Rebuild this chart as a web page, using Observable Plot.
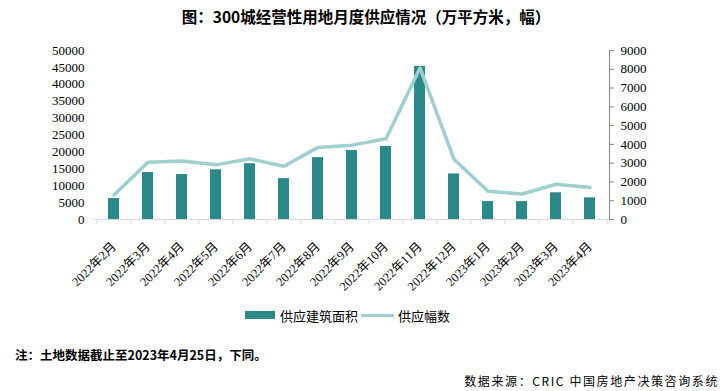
<!DOCTYPE html>
<html><head><meta charset="utf-8">
<script src="https://cdn.jsdelivr.net/npm/d3@7"></script>
<script src="https://cdn.jsdelivr.net/npm/@observablehq/plot@0.6"></script>
<style>
body{margin:0;background:#fff;}
#wrap{position:relative;width:724px;height:391px;overflow:hidden;font-family:"Noto Sans CJK SC",sans-serif;color:#000;}
#chart{position:absolute;left:0;top:0;}
.abs{position:absolute;white-space:nowrap;line-height:1;}
</style></head>
<body>
<div id="wrap">
  <div id="chart"></div>
  <div class="abs" id="title" style="left:0;width:732px;text-align:center;top:9px;font-size:15.5px;font-weight:bold;">图：300城经营性用地月度供应情况（万平方米，幅）</div>
  <div class="abs" id="legend" style="left:245px;top:307px;font-size:13px;">
    <span style="display:inline-block;width:30px;height:8px;background:#2b8a89;vertical-align:middle;"></span><span style="vertical-align:middle;margin-left:5px;">供应建筑面积</span><span style="display:inline-block;width:33px;height:3.5px;background:#9fcfd1;vertical-align:middle;margin-left:3px;"></span><span style="vertical-align:middle;margin-left:4px;">供应幅数</span>
  </div>
  <div class="abs" id="note" style="left:15px;top:349px;font-size:12.5px;font-weight:bold;">注：土地数据截止至2023年4月25日，下同。</div>
  <div class="abs" id="src" style="right:5px;top:375px;font-size:12px;letter-spacing:1.6px;">数据来源：CRIC 中国房地产决策咨询系统</div>
</div>
<script>
const months = ["2022年2月","2022年3月","2022年4月","2022年5月","2022年6月","2022年7月","2022年8月","2022年9月","2022年10月","2022年11月","2022年12月","2023年1月","2023年2月","2023年3月","2023年4月"];
const area = [6200,13900,13300,14700,16500,12100,18300,20400,21600,45300,13500,5300,5300,7900,6400];
const count = [1300,3050,3120,2910,3230,2840,3840,3960,4300,8070,3210,1500,1360,1880,1700];
const leftTicks = [0,5000,10000,15000,20000,25000,30000,35000,40000,45000,50000];
const rightTicks = [0,1000,2000,3000,4000,5000,6000,7000,8000,9000];

const W = 724, H = 391, mL = 94, mR = 115, mT = 50, mB = 172;
const ratio = 50000 / 9000;
const step = (W - mL - mR) / months.length;
const fmt = d3.format("d");
const serif = "'Liberation Serif','Noto Sans CJK SC',serif";

const chart = Plot.plot({
  width: W, height: H,
  marginLeft: mL, marginRight: mR, marginTop: mT, marginBottom: mB,
  style: {fontFamily: serif, fontSize: "13px", color: "#000", background: "transparent"},
  x: {domain: months, paddingInner: 0.68, paddingOuter: 0.34, label: null},
  y: {domain: [0, 50000], label: null},
  marks: [
    Plot.ruleY([0], {stroke: "#d9d9d9"}),
    Plot.axisX({tickSize: 5, tickFormat: () => "", stroke: "#d9d9d9", strokeOpacity: 1, dx: -step / 2, label: null}),
    Plot.axisX({ticks: [months[months.length - 1]], tickSize: 5, tickFormat: () => "", stroke: "#d9d9d9", strokeOpacity: 1, dx: step / 2, label: null}),
    Plot.axisX({tickSize: 0, tickRotate: -45, tickPadding: 25, fontSize: 12.5, fontFamily: serif, label: null}),
    Plot.axisY({ticks: leftTicks, anchor: "left", tickSize: 0, tickPadding: 10, fontFamily: serif, fontSize: 13, tickFormat: fmt, label: null}),
    Plot.axisY({ticks: rightTicks.map(v => v * ratio), anchor: "right", tickSize: 4, tickPadding: 7, fontFamily: serif, fontSize: 13, stroke: "#868686", strokeOpacity: 1, tickFormat: d => fmt(Math.round(d / ratio)), label: null}),
    Plot.frame({anchor: "right", stroke: "#868686"}),
    Plot.barY(months, {x: d => d, y: (d, i) => area[i], fill: "#2b8a89"}),
    Plot.line(months, {x: d => d, y: (d, i) => count[i] * ratio, stroke: "#9fcfd1", strokeWidth: 3.5, strokeLinejoin: "round"})
  ]
});
document.getElementById("chart").appendChild(chart);
</script>
</body></html>
